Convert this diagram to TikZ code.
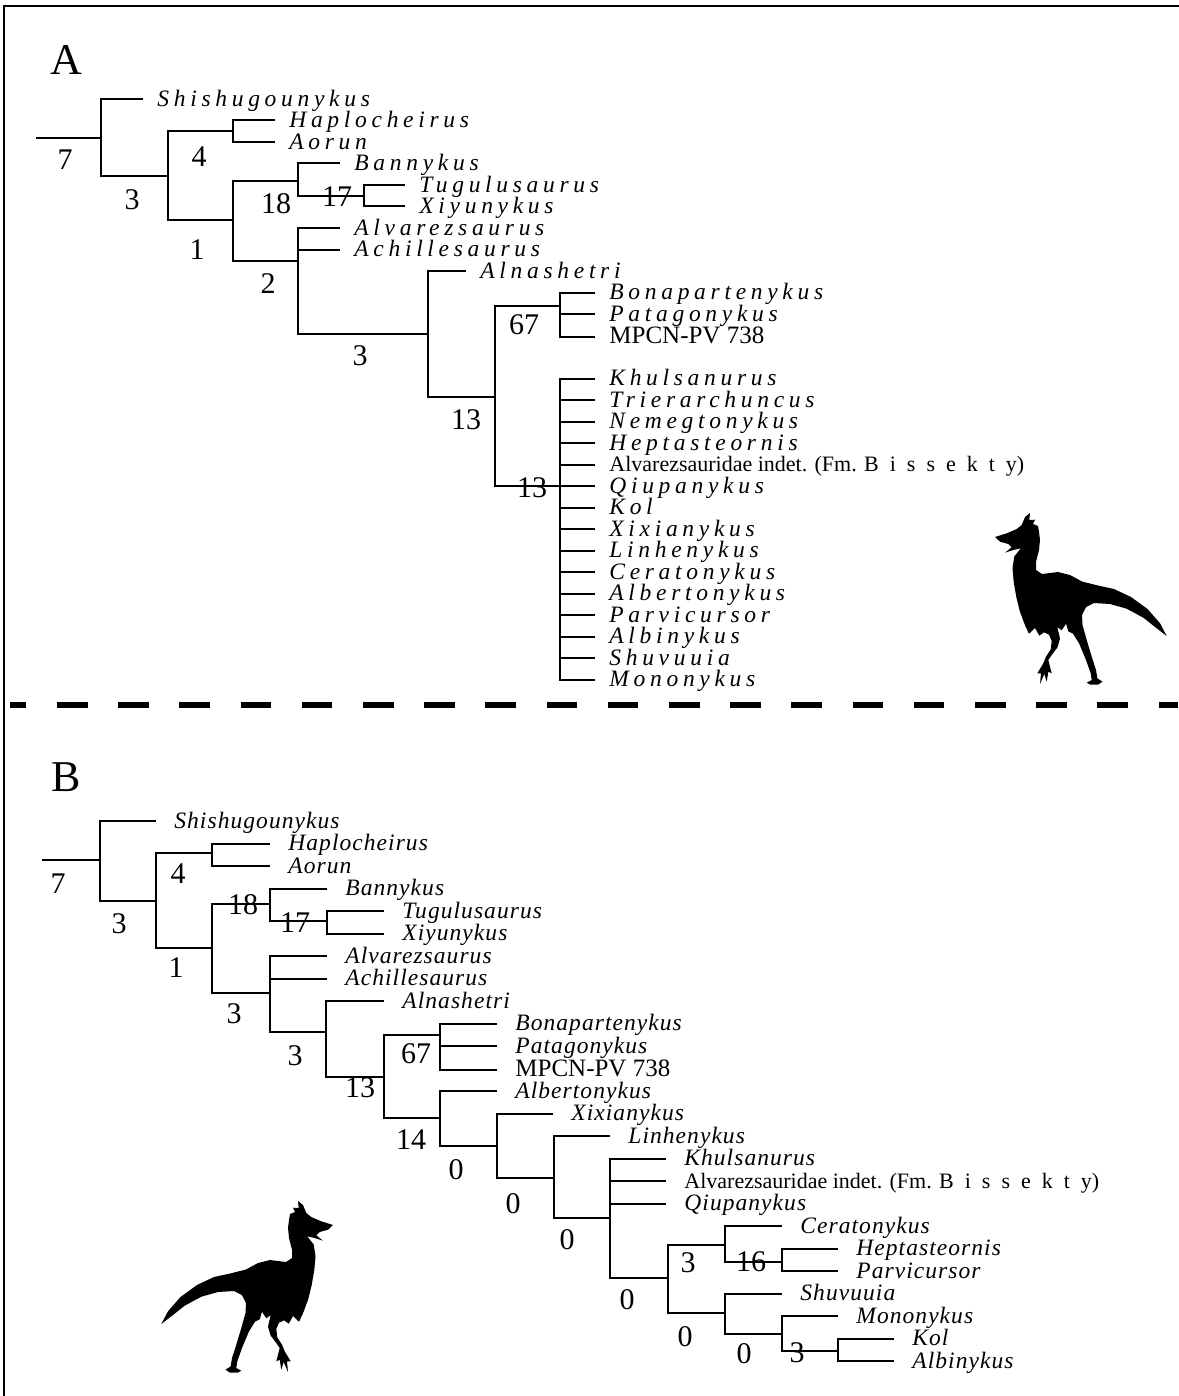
\documentclass[tikz,border=0pt]{standalone}
\usepackage{fontspec}
\setmainfont{Liberation Serif}
\newfontfamily\trackA{Liberation Serif}[LetterSpace=20]
\newfontfamily\trackB{Liberation Serif}[LetterSpace=4.5]
\newfontfamily\trackW{Liberation Serif}[LetterSpace=50]

% silhouette, facing left, in picture units
\def\dinopath{(995,537) -- (1006.7,533.3) -- (1016.7,529) -- (1021.7,525)
  -- (1025,517) -- (1030,513) -- (1029.3,520) -- (1035,519.7) -- (1033,524)
  -- (1038,526) -- (1039,532) -- (1040,540) -- (1039,550)
  -- (1036,561.7) -- (1036,570) -- (1042,574) -- (1058,572)
  -- (1070,575) -- (1082,581.5) -- (1097,585.3) -- (1114,589)
  -- (1131,597) -- (1147.5,609) -- (1160,623.3) -- (1166.7,636)
  -- (1156.7,628.3) -- (1143.3,617.7) -- (1126.7,608.7) -- (1110,604)
  -- (1094,603) -- (1086,607) -- (1082,615) -- (1082.5,625)
  -- (1086.7,640) -- (1091.7,656.7) -- (1096,670) -- (1097.3,678.3)
  -- (1102.5,681.7) -- (1098.3,684.5) -- (1090,684.5) -- (1086.7,682.7)
  -- (1091.7,680) -- (1090.7,673.3) -- (1086,660) -- (1079,643.3)
  -- (1073,633.7) -- (1068.3,631.3) -- (1066,623.7) -- (1061.7,630.3)
  -- (1057.3,627) -- (1060,638.7) -- (1057.3,647.7) -- (1051.7,655)
  -- (1048.3,660) -- (1051.7,673.3) -- (1048.3,671.7) -- (1046.7,681.7)
  -- (1044.3,674) -- (1040,684) -- (1041,673.3) -- (1037.3,673.3)
  -- (1043.3,663.3) -- (1046,656.7) -- (1050.7,649.3) -- (1051.7,641)
  -- (1049,634.7) -- (1044,632.3) -- (1039.3,635.7) -- (1035,628)
  -- (1029,633.7) -- (1025,625.3) -- (1019.7,611) -- (1016.3,597)
  -- (1013.7,582) -- (1012.5,568.3) -- (1014.2,556.7) -- (1020.7,548.3)
  -- (1013.3,550) -- (1005,552.7) -- (1011.7,547.3) -- (1008.3,544)
  -- (1000,541.7) -- cycle}

\tikzset{
  branch/.style={line width=1pt},
  frame/.style={line width=1.4pt},
  separator/.style={line width=2.75pt, dash pattern=on 15.3pt off 15.3pt, dash phase=7.1pt},
  tip/.style={anchor=west, inner ysep=0pt, text height=7.4pt, text depth=0pt,
    font=\fontsize{11}{13}\selectfont},
  tA/.style={tip, inner xsep=7pt, font=\fontsize{11.75}{13}\trackA\itshape},
  tArom/.style={tip, inner xsep=7pt},
  tB/.style={tip, inner xsep=9pt, font=\fontsize{11.75}{13}\trackB\itshape},
  tBrom/.style={tip, inner xsep=9pt},
  spec/.style={font=\fontsize{12.5}{14}\selectfont},
  num/.style={inner sep=0pt, font=\fontsize{15}{17}\selectfont},
  panel/.style={inner sep=0pt, font=\fontsize{22}{24}\selectfont}
}

\begin{document}
\begin{tikzpicture}[x=0.5pt,y=-0.5pt]
\useasboundingbox (0,0) rectangle (1178,1396);
\draw[frame] (4,1400) -- (4,6) -- (1182,6);
\draw[separator] (10,705) -- (1178,705);

%% ---------------- tree A ----------------
\node[panel] (labA) at (66,60) {A};
\coordinate (rootA) at (36,138);
\coordinate (nA1) at (101,138);
\coordinate (nA2) at (168,176);
\coordinate (nAhap) at (233,131);
\coordinate (nA3) at (233,220);
\coordinate (nAban) at (298,181);
\coordinate (nAtug) at (364,196);
\coordinate (nA4) at (298,261);
\coordinate (nA5) at (428,334);
\coordinate (nA6) at (495,397);
\coordinate (nA67) at (560,306);
\coordinate (nApoly) at (560,486);

\node[tA] (shisA) at (143,99) {Shishugounykus};
\node[tA] (hapA) at (275,120.5) {Haplocheirus};
\node[tA] (aorA) at (275,142) {Aorun};
\node[tA] (banA) at (340,163.5) {Bannykus};
\node[tA] (tugA) at (405,185) {Tugulusaurus};
\node[tA] (xiyA) at (405,206.5) {Xiyunykus};
\node[tA] (alvA) at (340,228) {Alvarezsaurus};
\node[tA] (achA) at (340,249.5) {Achillesaurus};
\node[tA] (alnA) at (466,271) {Alnashetri};
\node[tA] (bonA) at (595,292.5) {Bonapartenykus};
\node[tA] (patA) at (595,314) {Patagonykus};
\node[tArom, spec] (mpcA) at (595,336.5) {MPCN-PV 738};
\node[tA] (khuA) at (595,378.5) {Khulsanurus};
\node[tA] (triA) at (595,400) {Trierarchuncus};
\node[tA] (nemA) at (595,421.5) {Nemegtonykus};
\node[tA] (hepA) at (595,443) {Heptasteornis};
\node[tArom] (bisA) at (595,464.5) {Alvarezsauridae indet. (Fm. {\trackW Bissekty})};
\node[tA] (qiuA) at (595,486) {Qiupanykus};
\node[tA] (kolA) at (595,507.5) {Kol};
\node[tA] (xixA) at (595,529) {Xixianykus};
\node[tA] (linA) at (595,550.5) {Linhenykus};
\node[tA] (cerA) at (595,572) {Ceratonykus};
\node[tA] (albeA) at (595,593.5) {Albertonykus};
\node[tA] (parA) at (595,615) {Parvicursor};
\node[tA] (albiA) at (595,636.5) {Albinykus};
\node[tA] (shuA) at (595,658) {Shuvuuia};
\node[tA] (monA) at (595,679.5) {Mononykus};

\draw[branch] (rootA) -- (nA1);
\draw[branch] (nA1) |- (shisA.west) (nA1) |- (nA2);
\draw[branch] (nA2) |- (nAhap) (nA2) |- (nA3);
\draw[branch] (nAhap) |- (hapA.west) (nAhap) |- (aorA.west);
\draw[branch] (nA3) |- (nAban) (nA3) |- (nA4);
\draw[branch] (nAban) |- (banA.west) (nAban) |- (nAtug);
\draw[branch] (nAtug) |- (tugA.west) (nAtug) |- (xiyA.west);
\draw[branch] (nA4) |- (alvA.west) (nA4) |- (achA.west) (nA4) |- (nA5);
\draw[branch] (nA5) |- (alnA.west) (nA5) |- (nA6);
\draw[branch] (nA6) |- (nA67) (nA6) |- (nApoly);
\draw[branch] (nA67) |- (bonA.west) (nA67) |- (patA.west) (nA67) |- (mpcA.west);
\foreach \t in {khuA,triA,nemA,hepA,bisA,qiuA,kolA,xixA,linA,cerA,albeA,parA,albiA,shuA,monA}
  \draw[branch] (nApoly) |- (\t.west);

\node[num] (sA1) at (65,160) {7};
\node[num] (sA2) at (132,200) {3};
\node[num] (sA3) at (199,157) {4};
\node[num] (sA4) at (197,250) {1};
\node[num] (sA5) at (276,204) {18};
\node[num] (sA6) at (337,197) {17};
\node[num] (sA7) at (268,284) {2};
\node[num] (sA8) at (360,356) {3};
\node[num] (sA9) at (466,420) {13};
\node[num] (sA10) at (524,325) {67};
\node[num] (sA11) at (532,488) {13};

\fill \dinopath;

%% ---------------- tree B ----------------
\node[panel] (labB) at (66,777) {B};
\coordinate (rootB) at (42,860);
\coordinate (nB1) at (100,860);
\coordinate (nB2) at (156,901);
\coordinate (nBhap) at (212,853);
\coordinate (nB3) at (212,948);
\coordinate (nBban) at (270,904);
\coordinate (nBtug) at (327,921);
\coordinate (nB4) at (270,993);
\coordinate (nB5) at (326,1032);
\coordinate (nB6) at (384,1077);
\coordinate (nB67) at (440,1035);
\coordinate (nB7) at (440,1118);
\coordinate (nB8) at (497,1146);
\coordinate (nB9) at (554,1178);
\coordinate (nB10) at (610,1218);
\coordinate (nB11) at (668,1278);
\coordinate (nBcer) at (725,1245);
\coordinate (nBhep) at (782,1262);
\coordinate (nBshu) at (725,1313);
\coordinate (nBmon) at (782,1334);
\coordinate (nBkol) at (838,1351);

\node[tB] (shisB) at (156,821) {Shishugounykus};
\node[tB] (hapB) at (270,843.5) {Haplocheirus};
\node[tB] (aorB) at (270,866) {Aorun};
\node[tB] (banB) at (327,888.5) {Bannykus};
\node[tB] (tugB) at (384,911) {Tugulusaurus};
\node[tB] (xiyB) at (384,933.5) {Xiyunykus};
\node[tB] (alvB) at (327,956) {Alvarezsaurus};
\node[tB] (achB) at (327,978.5) {Achillesaurus};
\node[tB] (alnB) at (384,1001) {Alnashetri};
\node[tB] (bonB) at (497,1023.5) {Bonapartenykus};
\node[tB] (patB) at (497,1046) {Patagonykus};
\node[tBrom, spec] (mpcB) at (497,1069.5) {MPCN-PV 738};
\node[tB] (albeB) at (497,1091) {Albertonykus};
\node[tB] (xixB) at (553,1113.5) {Xixianykus};
\node[tB] (linB) at (610,1136) {Linhenykus};
\node[tB] (khuB) at (666,1158.5) {Khulsanurus};
\node[tBrom] (bisB) at (666,1181) {Alvarezsauridae indet. (Fm. {\trackW Bissekty})};
\node[tB] (qiuB) at (666,1203.5) {Qiupanykus};
\node[tB] (cerB) at (782,1226) {Ceratonykus};
\node[tB] (hepB) at (838,1248.5) {Heptasteornis};
\node[tB] (parB) at (838,1271) {Parvicursor};
\node[tB] (shuB) at (782,1293.5) {Shuvuuia};
\node[tB] (monB) at (838,1316) {Mononykus};
\node[tB] (kolB) at (894,1338.5) {Kol};
\node[tB] (albiB) at (894,1361) {Albinykus};

\draw[branch] (rootB) -- (nB1);
\draw[branch] (nB1) |- (shisB.west) (nB1) |- (nB2);
\draw[branch] (nB2) |- (nBhap) (nB2) |- (nB3);
\draw[branch] (nBhap) |- (hapB.west) (nBhap) |- (aorB.west);
\draw[branch] (nB3) |- (nBban) (nB3) |- (nB4);
\draw[branch] (nBban) |- (banB.west) (nBban) |- (nBtug);
\draw[branch] (nBtug) |- (tugB.west) (nBtug) |- (xiyB.west);
\draw[branch] (nB4) |- (alvB.west) (nB4) |- (achB.west) (nB4) |- (nB5);
\draw[branch] (nB5) |- (alnB.west) (nB5) |- (nB6);
\draw[branch] (nB6) |- (nB67) (nB6) |- (nB7);
\draw[branch] (nB67) |- (bonB.west) (nB67) |- (patB.west) (nB67) |- (mpcB.west);
\draw[branch] (nB7) |- (albeB.west) (nB7) |- (nB8);
\draw[branch] (nB8) |- (xixB.west) (nB8) |- (nB9);
\draw[branch] (nB9) |- (linB.west) (nB9) |- (nB10);
\draw[branch] (nB10) |- (khuB.west) (nB10) |- (bisB.west) (nB10) |- (qiuB.west) (nB10) |- (nB11);
\draw[branch] (nB11) |- (nBcer) (nB11) |- (nBshu);
\draw[branch] (nBcer) |- (cerB.west) (nBcer) |- (nBhep);
\draw[branch] (nBhep) |- (hepB.west) (nBhep) |- (parB.west);
\draw[branch] (nBshu) |- (shuB.west) (nBshu) |- (nBmon);
\draw[branch] (nBmon) |- (monB.west) (nBmon) |- (nBkol);
\draw[branch] (nBkol) |- (kolB.west) (nBkol) |- (albiB.west);

\node[num] (sB1) at (58,884) {7};
\node[num] (sB2) at (119,924) {3};
\node[num] (sB3) at (178,874) {4};
\node[num] (sB4) at (176,968) {1};
\node[num] (sB5) at (243,905) {18};
\node[num] (sB6) at (295,923) {17};
\node[num] (sB7) at (234,1014) {3};
\node[num] (sB8) at (295,1056) {3};
\node[num] (sB9) at (360,1088) {13};
\node[num] (sB10) at (416,1054) {67};
\node[num] (sB11) at (411,1140) {14};
\node[num] (sB12) at (456,1170) {0};
\node[num] (sB13) at (513,1204) {0};
\node[num] (sB14) at (567,1240) {0};
\node[num] (sB15) at (627,1300) {0};
\node[num] (sB16) at (688,1263) {3};
\node[num] (sB17) at (751,1262) {16};
\node[num] (sB18) at (685,1337) {0};
\node[num] (sB19) at (744,1354) {0};
\node[num] (sB20) at (797,1353) {3};

% same animal, mirrored
\begin{scope}[shift={(333,1225)}, xscale=-1, shift={(-995,-537)}]
  \fill \dinopath;
\end{scope}
\end{tikzpicture}
\end{document}
